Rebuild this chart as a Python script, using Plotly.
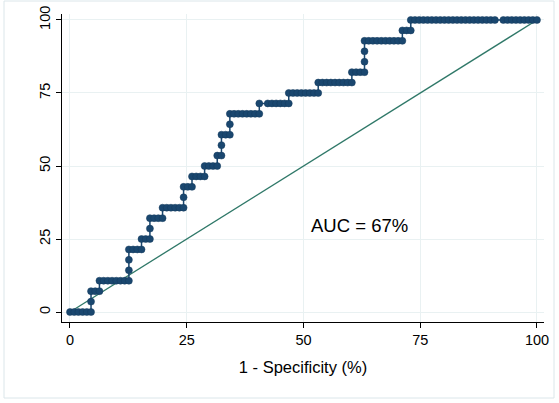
import plotly.graph_objects as go

# ROC data: counts of false positives (of 111 negatives) and true positives (of 28 positives)
N_NEG = 111
N_POS = 28
fp_counts = [
    0, 1, 2, 3, 4, 5,
    5,
    5, 6, 7,
    7, 8, 9, 10, 11, 12, 13, 14,
    14,
    14,
    14, 15, 16, 17,
    17, 18, 19,
    19,
    19, 20, 21, 22,
    22, 23, 24, 25, 26, 27,
    27,
    27, 28, 29,
    29, 30, 31, 32,
    32, 33, 34, 35,
    35, 36,
    36,
    36, 37, 38,
    38,
    38, 39, 40, 41, 42, 43, 44, 45,
    45, 47, 48, 49, 50, 51, 52,
    52, 53, 54, 55, 56, 57, 58, 59,
    59, 60, 61, 62, 63, 64, 65, 66, 67,
    67, 68, 69, 70,
    70,
    70,
    70, 71, 72, 73, 74, 75, 76, 77, 78, 79,
    79, 80, 81,
    81, 82, 83, 84, 85, 86, 87, 88, 89, 90, 91, 92, 93, 94, 95, 96, 97, 98, 99, 100, 101,
    103, 104, 105, 106, 107, 108, 109, 110, 111,
]
tp_counts = (
    [0] * 6 + [1] + [2] * 3 + [3] * 8 + [4] + [5] + [6] * 4 + [7] * 3 + [8]
    + [9] * 4 + [10] * 6 + [11] + [12] * 3 + [13] * 4 + [14] * 4 + [15] * 2
    + [16] + [17] * 3 + [18] + [19] * 8 + [20] * 7 + [21] * 8 + [22] * 9
    + [23] * 4 + [24] + [25] + [26] * 10 + [27] * 3 + [28] * 30
)

one_minus_spec = [100 * f / N_NEG for f in fp_counts]
sensitivity = [100 * t / N_POS for t in tp_counts]

ref_x = [0, 100]
ref_y = [0, 100]
tick_vals = [0, 25, 50, 75, 100]
auc_text = "AUC = 67%"
x_title = "1 - Specificity (%)"

NAVY = "#1a476f"
TEAL = "#2f7868"
GRID = "#e9f1f2"
FONT = "Liberation Sans, Arial"

fig = go.Figure()
fig.add_trace(go.Scatter(
    x=ref_x, y=ref_y, mode="lines",
    line=dict(color=TEAL, width=1.3), hoverinfo="skip", showlegend=False,
))
fig.add_trace(go.Scatter(
    x=one_minus_spec, y=sensitivity, mode="lines+markers",
    line=dict(color=NAVY, width=1.5),
    marker=dict(color=NAVY, size=7, line=dict(color="#153a5c", width=0.5)),
    showlegend=False,
))
fig.add_annotation(
    x=62, y=29.5, text=auc_text, showarrow=False,
    font=dict(size=18.5, color="black", family=FONT),
)

# outer light frame
L, R, T, B = 62, 544, 14, 322
W, H = R - L, B - T
def px(x):
    return (x - L) / W
def py(y):
    return (B - y) / H
fig.add_shape(type="rect", xref="paper", yref="paper",
              x0=px(4), x1=px(554), y0=py(398), y1=py(1),
              line=dict(color="#dbe6ea", width=1), fillcolor="rgba(0,0,0,0)", layer="below")

fig.update_xaxes(
    range=[-1.71, 101.5], tickvals=tick_vals, ticktext=[str(v) for v in tick_vals],
    showgrid=True, gridcolor=GRID, gridwidth=1, zeroline=False,
    showline=True, linecolor="black", linewidth=1,
    ticks="outside", ticklen=5, tickcolor="black", automargin=False,
    tickfont=dict(size=14.5, color="black", family=FONT),
    title=dict(text=x_title, font=dict(size=16.5, color="black", family=FONT), standoff=14),
)
fig.update_yaxes(
    range=[-3.42, 102.05], tickvals=tick_vals, ticktext=[str(v) for v in tick_vals],
    showgrid=True, gridcolor=GRID, gridwidth=1, zeroline=False,
    showline=True, linecolor="black", linewidth=1, automargin=False,
    ticks="outside", ticklen=5, tickcolor="black", tickangle=-90,
    tickfont=dict(size=14.5, color="black", family=FONT),
)
fig.update_layout(
    width=559, height=403,
    margin=dict(l=L, r=559 - R, t=T, b=403 - B),
    paper_bgcolor="white", plot_bgcolor="white",
    font=dict(family=FONT, color="black"),
)
fig.write_html("out.html", config={"displayModeBar": False},
               post_script="document.body.style.margin='0';")
